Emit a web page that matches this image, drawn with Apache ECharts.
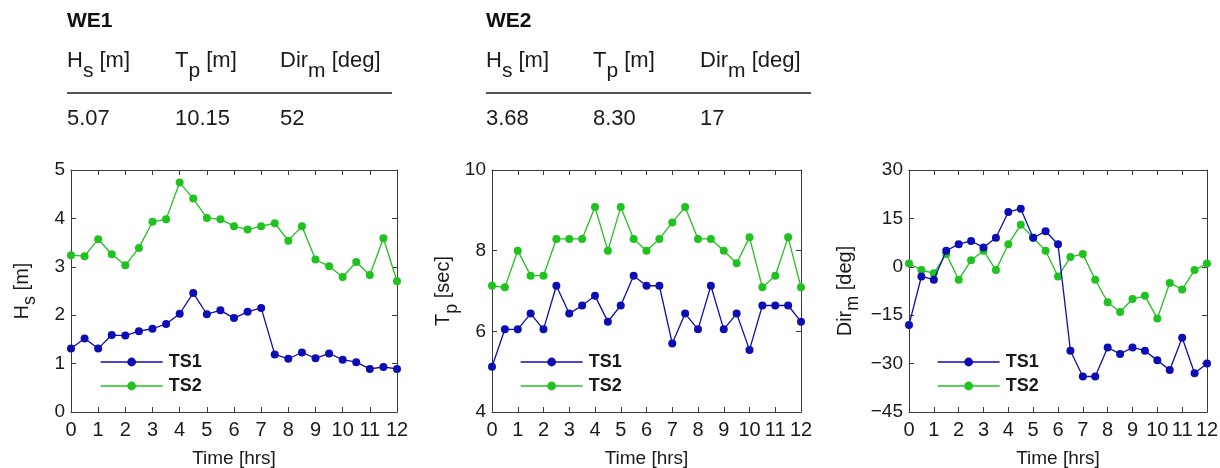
<!DOCTYPE html>
<html>
<head>
<meta charset="utf-8">
<script src="https://cdn.jsdelivr.net/npm/echarts@6/dist/echarts.min.js"></script>
<style>
  html, body { margin: 0; padding: 0; background: #fff; }
  #chart { width: 1220px; height: 468px; }
</style>
</head>
<body>
<div id="chart"></div>
<script>
// ---------- data ----------
const timeHrs = [0, 0.5, 1, 1.5, 2, 2.5, 3, 3.5, 4, 4.5, 5, 5.5, 6, 6.5, 7, 7.5, 8, 8.5, 9, 9.5, 10, 10.5, 11, 11.5, 12];
const xTickLabels = ['0','1','2','3','4','5','6','7','8','9','10','11','12'];
const seriesNames = ['TS1', 'TS2'];

const hsTS1 = [1.31, 1.52, 1.31, 1.59, 1.58, 1.67, 1.72, 1.82, 2.03, 2.46, 2.02, 2.10, 1.94, 2.07, 2.15, 1.19, 1.10, 1.23, 1.11, 1.21, 1.08, 1.03, 0.89, 0.93, 0.89];
const hsTS2 = [3.24, 3.22, 3.57, 3.26, 3.03, 3.39, 3.93, 3.98, 4.74, 4.41, 4.01, 3.98, 3.84, 3.77, 3.84, 3.90, 3.54, 3.84, 3.15, 3.01, 2.79, 3.10, 2.83, 3.59, 2.70];
const tpTS1 = [5.12, 6.05, 6.05, 6.44, 6.05, 7.13, 6.44, 6.64, 6.88, 6.24, 6.64, 7.38, 7.13, 7.13, 5.70, 6.44, 6.05, 7.13, 6.05, 6.44, 5.54, 6.64, 6.64, 6.64, 6.24];
const tpTS2 = [7.13, 7.09, 8.00, 7.38, 7.38, 8.29, 8.29, 8.29, 9.08, 8.00, 9.08, 8.29, 8.00, 8.29, 8.70, 9.08, 8.29, 8.29, 8.00, 7.69, 8.33, 7.09, 7.38, 8.33, 7.09];
const dirTS1 = [-18, -3, -4, 5, 7, 8, 6, 9, 17, 18, 9, 11, 7, -26, -34, -34, -25, -27, -25, -26, -29, -32, -22, -33, -30];
const dirTS2 = [1, -1, -2, 4, -4, 2, 5, -1, 7, 13, 9, 5, -3, 3, 4, -4, -11, -14, -10, -9, -16, -5, -7, -1, 1];

const we1Values = ['5.07', '10.15', '52'];
const we2Values = ['3.68', '8.30', '17'];

// ---------- styles ----------
const BLUE = '#0d0db5';
const GREEN = '#1fc21f';
const AXIS = '#3a3a3a';
const TXT = '#1a1a1a';
const FONT = '"Liberation Sans", Arial, sans-serif';

const grids = [
  { left: 71, width: 326, top: 170, height: 242, outerBoundsMode: 'none', containLabel: false },
  { left: 492, width: 309, top: 170, height: 242, outerBoundsMode: 'none', containLabel: false },
  { left: 909, width: 298, top: 170, height: 242, outerBoundsMode: 'none', containLabel: false }
];
const yRanges = [
  { min: 0, max: 5, interval: 1 },
  { min: 4, max: 10, interval: 2 },
  { min: -45, max: 30, interval: 15 }
];
const yNames = ['{a|H}{b|s}{a| [m]}', '{a|T}{b|p}{a| [sec]}', '{a|Dir}{b|m}{a| [deg]}'];
const yNameGaps = [37, 30, 52];
const legendLefts = [95, 515, 932];
const panelData = [[hsTS1, hsTS2], [tpTS1, tpTS2], [dirTS1, dirTS2]];

const nameRich = {
  a: { fontSize: 20, lineHeight: 22, verticalAlign: 'top', color: TXT, fontFamily: FONT },
  b: { fontSize: 18, lineHeight: 22, verticalAlign: 'top', padding: [9, 0, 0, 0], color: TXT, fontFamily: FONT }
};

const minus = v => String(v).replace('-', '\u2212');

const xAxes = [], yAxes = [], series = [], legends = [];
grids.forEach((g, i) => {
  const baseX = {
    type: 'value', gridIndex: i, min: 0, max: 12, interval: 1,
    axisLine: { show: true, onZero: false, lineStyle: { color: AXIS, width: 1 } },
    axisTick: { show: true, inside: true, length: 5, lineStyle: { color: AXIS } },
    splitLine: { show: false }
  };
  xAxes.push(Object.assign({}, baseX, {
    position: 'bottom',
    axisLabel: { fontSize: 20, color: TXT, fontFamily: FONT, margin: 8,
                 formatter: v => xTickLabels[v] },
    name: 'Time [hrs]', nameLocation: 'middle', nameGap: 37,
    nameTextStyle: { fontSize: 19, color: TXT, fontFamily: FONT }
  }));
  xAxes.push(Object.assign({}, baseX, { position: 'top', axisLabel: { show: false } }));

  const baseY = {
    type: 'value', gridIndex: i,
    min: yRanges[i].min, max: yRanges[i].max, interval: yRanges[i].interval,
    axisLine: { show: true, onZero: false, lineStyle: { color: AXIS, width: 1 } },
    axisTick: { show: true, inside: true, length: 5, lineStyle: { color: AXIS } },
    splitLine: { show: false }
  };
  yAxes.push(Object.assign({}, baseY, {
    position: 'left',
    axisLabel: { fontSize: 19, color: TXT, fontFamily: FONT, margin: 6, formatter: minus },
    name: yNames[i], nameLocation: 'middle', nameRotate: 90, nameGap: yNameGaps[i],
    nameTextStyle: { rich: nameRich }
  }));
  yAxes.push(Object.assign({}, baseY, { position: 'right', axisLabel: { show: false } }));

  const pair = panelData[i];
  [BLUE, GREEN].forEach((c, k) => {
    series.push({
      name: seriesNames[k], type: 'line',
      xAxisIndex: i * 2, yAxisIndex: i * 2,
      data: timeHrs.map((t, j) => [t, pair[k][j]]),
      symbol: 'circle', symbolSize: 8, showSymbol: true,
      lineStyle: { color: c, width: 1.3 },
      itemStyle: { color: c },
      animation: false, z: k === 0 ? 3 : 2
    });
  });

  legends.push({
    data: seriesNames, orient: 'vertical', left: legendLefts[i], top: 348, padding: 5,
    itemWidth: 62, itemHeight: 11, itemGap: 6,
    lineStyle: { width: 1.3 },
    textStyle: { fontSize: 18, fontWeight: 'bold', color: TXT, fontFamily: FONT, padding: [0, 0, 0, 1] },
    selectedMode: false
  });
});

// ---------- header tables ----------
const hdrRich = {
  a: { fontSize: 22, lineHeight: 24, verticalAlign: 'top', fill: TXT, fontFamily: FONT },
  b: { fontSize: 21, lineHeight: 24, verticalAlign: 'top', padding: [11, 0, 0, 0], fill: TXT, fontFamily: FONT }
};
const colLabels = ['{a|H}{b|s}{a| [m]}', '{a|T}{b|p}{a| [m]}', '{a|Dir}{b|m}{a| [deg]}'];
const blocks = [
  { title: 'WE1', x: [67, 175, 280], lineEnd: 392, values: we1Values },
  { title: 'WE2', x: [486, 593, 700], lineEnd: 811, values: we2Values }
];
const graphic = [];
blocks.forEach(b => {
  graphic.push({ type: 'text', left: b.x[0], top: 11,
    style: { text: b.title, fontSize: 21, fontWeight: 'bold', fill: '#111', fontFamily: FONT } });
  b.x.forEach((x, k) => {
    graphic.push({ type: 'text', left: x, top: 50,
      style: { text: colLabels[k], rich: hdrRich } });
    graphic.push({ type: 'text', left: x, top: 108,
      style: { text: b.values[k], fontSize: 22, fill: TXT, fontFamily: FONT } });
  });
  graphic.push({ type: 'line', shape: { x1: b.x[0], y1: 93, x2: b.lineEnd, y2: 93 },
    style: { stroke: '#555', lineWidth: 2 } });
});

const chart = echarts.init(document.getElementById('chart'), null, { renderer: 'canvas' });
chart.setOption({
  animation: false,
  backgroundColor: '#fff',
  grid: grids,
  xAxis: xAxes,
  yAxis: yAxes,
  series: series,
  legend: legends,
  graphic: graphic
});
</script>
</body>
</html>
